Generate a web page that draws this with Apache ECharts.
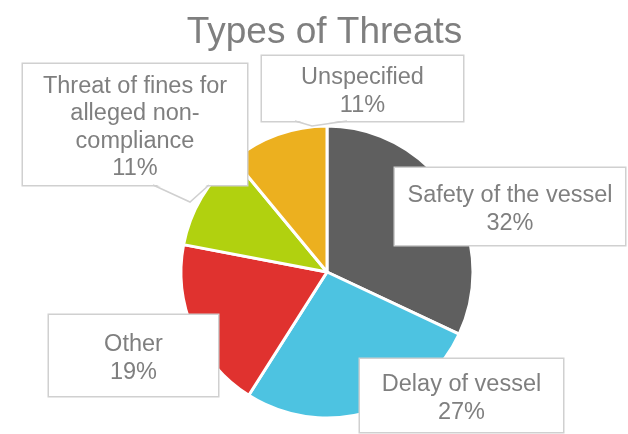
<!DOCTYPE html>
<html>
<head>
<meta charset="utf-8">
<title>Types of Threats</title>
<script src="https://cdn.jsdelivr.net/npm/echarts@6/dist/echarts.min.js"></script>
<style>
  html, body { margin: 0; padding: 0; background: #fff; }
  #chart { width: 628px; height: 434px; }
</style>
</head>
<body>
<div id="chart"></div>
<script>
// data
const categories = ['Safety of the vessel', 'Delay of vessel', 'Other', 'Threat of fines for alleged non-compliance', 'Unspecified']
const labelText = ['Safety of the vessel', 'Delay of vessel', 'Other', 'Threat of fines for\nalleged non-\ncompliance', 'Unspecified']
const shares = [32, 27, 19, 11, 11]
const colors = ['#5f5f5f', '#4dc3e1', '#e0322f', '#b1d10f', '#ecb01f']

// callout boxes: center x, center y, width, height
const boxes = [
  [510, 206.5, 230, 77],
  [461.5, 395.5, 203, 73],
  [133.5, 355.5, 169, 81],
  [135, 124.5, 224, 121],
  [362.5, 88.5, 201, 65]
]
const lineH = 27.5
const textShift = 3
const boxBorder = '#d0d0d0'
const textColor = '#7f7f7f'

const chart = echarts.init(document.getElementById('chart'))

const seriesData = categories.map((name, i) => {
  const lines = labelText[i].split('\n').length + 1
  const padV = (boxes[i][3] - lines * lineH) / 2
  return {
    name: name,
    value: shares[i],
    itemStyle: { color: colors[i] },
    label: {
      width: boxes[i][2],
      padding: [padV + textShift, 0, padV - textShift, 0]
    }
  }
})

// pointer wedges on two of the callouts
function pointer(pts, coverY) {
  const fill = pts.map((p, i) => (i === 1 ? p : [p[0], coverY]))
  return [
    { type: 'polygon', z: 100, shape: { points: fill }, style: { fill: '#fff' } },
    { type: 'polyline', z: 101, shape: { points: pts }, style: { stroke: boxBorder, lineWidth: 1.5, fill: null } }
  ]
}

chart.setOption({
  animation: false,
  title: {
    text: 'Types of Threats',
    left: 319.5,
    top: 9,
    textAlign: 'center',
    textStyle: {
      color: textColor,
      fontFamily: 'Liberation Sans, Arial, sans-serif',
      fontSize: 37,
      fontWeight: 'normal'
    }
  },
  graphic: [
    ...pointer([[153, 185], [190, 202], [209, 185]], 183),
    ...pointer([[295, 121], [312, 126], [347, 121]], 119.5)
  ],
  series: [
    {
      type: 'pie',
      center: [327, 272],
      radius: 146,
      startAngle: 90,
      clockwise: true,
      avoidLabelOverlap: false,
      silent: true,
      itemStyle: {
        borderColor: '#fff',
        borderWidth: 3
      },
      label: {
        show: true,
        position: 'outside',
        formatter: (p) => labelText[p.dataIndex] + '\n' + Math.round(p.percent) + '%',
        color: textColor,
        fontFamily: 'Liberation Sans, Arial, sans-serif',
        fontSize: 23.5,
        lineHeight: lineH,
        align: 'center',
        backgroundColor: '#fff',
        borderColor: boxBorder,
        borderWidth: 1.5
      },
      labelLine: { show: false },
      labelLayout: (params) => {
        const b = boxes[params.dataIndex]
        return { x: b[0], y: b[1] - b[3] / 2, align: 'center', verticalAlign: 'top' }
      },
      data: seriesData
    }
  ]
})
</script>
</body>
</html>
